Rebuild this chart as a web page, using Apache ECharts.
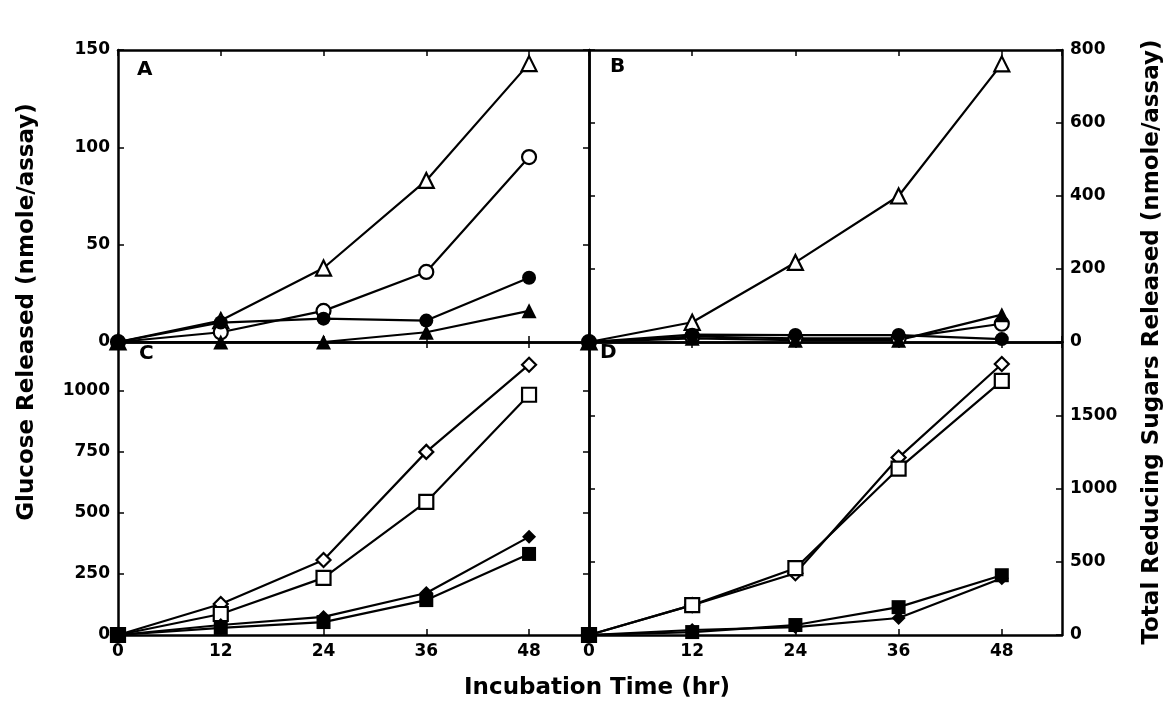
<!DOCTYPE html>
<html>
<head>
	<meta charset="utf-8">
	<title>Incubation Time</title>
	<script src="https://cdn.jsdelivr.net/npm/echarts@6/dist/echarts.min.js"></script>
	<style>
		html, body { margin: 0; padding: 0; background: #fff; }
		#main { width: 1168px; height: 702px; }
	</style>
</head>
<body>
<div id="main"></div>
<script>
	// incubation time (hr)
	var hours = [0, 12, 24, 36, 48];

	// panel A - glucose released (left axis, 0-150)
	var aOpenTri = [0, 11, 38, 83, 143];
	var aOpenCircle = [0, 5, 16, 36, 95];
	var aFilledCircle = [0, 10, 12, 11, 33];
	var aFilledTri = [0, 0, 0, 5, 16];

	// panel B - total reducing sugars (right axis, 0-800)
	var bOpenTri = [0, 54, 218, 400, 762];
	var bOpenCircle = [0, 15, 10, 10, 50];
	var bFilledCircle = [0, 20, 19, 19, 8];
	var bFilledTri = [0, 10, 5, 5, 75];

	// panel C - glucose released (left axis, 0-1200)
	var cOpenDiamond = [0, 127, 307, 750, 1107];
	var cOpenSquare = [0, 86, 234, 545, 984];
	var cFilledDiamond = [0, 41, 74, 172, 402];
	var cFilledSquare = [0, 29, 53, 143, 332];

	// panel D - total reducing sugars (right axis, 0-2000)
	var dOpenDiamond = [0, 204, 422, 1211, 1850];
	var dOpenSquare = [0, 204, 456, 1136, 1735];
	var dFilledDiamond = [0, 34, 54, 116, 388];
	var dFilledSquare = [0, 20, 68, 190, 408];

	var xTicks = [0, 12, 24, 36, 48];
	var aTicks = [0, 50, 100, 150];
	var bTicks = [0, 200, 400, 600, 800];
	var cTicks = [0, 250, 500, 750, 1000];
	var dTicks = [0, 500, 1000, 1500];

	var FONT = 'DejaVu Sans';

	function pairs(ys) {
		return hours.map(function (h, i) { return [h, ys[i]]; });
	}

	function mk(name, ys, grid, symbol, filled, size) {
		return {
			name: name,
			type: 'line',
			xAxisIndex: grid * 2,
			yAxisIndex: grid * 2,
			data: pairs(ys),
			symbol: symbol,
			symbolSize: size,
			showAllSymbol: true,
			clip: false,
			lineStyle: { color: '#000', width: 2.2 },
			itemStyle: {
				color: filled ? '#000' : '#fff',
				borderColor: '#000',
				borderWidth: filled ? 0 : 2.2
			},
			emphasis: { disabled: true },
			animation: false
		};
	}

	var grids = [
		{ left: 118, top: 50, width: 471, height: 292 },
		{ left: 589, top: 50, width: 473, height: 292 },
		{ left: 118, top: 342, width: 471, height: 293 },
		{ left: 589, top: 342, width: 473, height: 293 }
	];

	var axisLine = { show: true, onZero: false, lineStyle: { color: '#000', width: 2.5 } };
	var tick = { show: true, inside: true, length: 6, lineStyle: { color: '#000', width: 1.5 } };
	var labelStyle = { color: '#000', fontFamily: FONT, fontWeight: 'bold', fontSize: 17 };

	var xAxes = [];
	var yAxes = [];
	var yRanges = [
		{ max: 150, interval: 50, ticks: aTicks, side: 'left' },
		{ max: 800, interval: 200, ticks: bTicks, side: 'right' },
		{ max: 1200, interval: 250, ticks: cTicks, side: 'left' },
		{ max: 2000, interval: 500, ticks: dTicks, side: 'right' }
	];

	for (var g = 0; g < 4; g++) {
		var bottomRow = g >= 2;
		// bottom x axis
		xAxes.push({
			type: 'value', gridIndex: g, position: 'bottom',
			min: 0, max: 55, interval: 12,
			axisLine: axisLine, axisTick: tick, splitLine: { show: false },
			axisLabel: bottomRow ? Object.assign({
				show: true, margin: 8, showMaxLabel: false,
				formatter: function (v) { return xTicks.indexOf(v) >= 0 ? String(v) : ''; }
			}, labelStyle) : { show: false }
		});
		// top x axis, ticks only
		xAxes.push({
			type: 'value', gridIndex: g, position: 'top',
			min: 0, max: 55, interval: 12,
			axisLine: axisLine, axisTick: tick, splitLine: { show: false },
			axisLabel: { show: false }
		});
		var r = yRanges[g];
		var outer = {
			type: 'value', gridIndex: g, position: r.side,
			min: 0, max: r.max, interval: r.interval,
			axisLine: axisLine, axisTick: tick, splitLine: { show: false },
			axisLabel: Object.assign({
				show: true, margin: 8,
				formatter: (function (tk) {
					return function (v) { return tk.indexOf(v) >= 0 ? String(v) : ''; };
				})(r.ticks)
			}, labelStyle)
		};
		var inner = {
			type: 'value', gridIndex: g, position: r.side === 'left' ? 'right' : 'left',
			min: 0, max: r.max, interval: r.interval,
			axisLine: axisLine, axisTick: tick, splitLine: { show: false },
			axisLabel: { show: false }
		};
		yAxes.push(outer, inner);
	}

	var series = [
		mk('A open triangle', aOpenTri, 0, 'triangle', false, 15),
		mk('A open circle', aOpenCircle, 0, 'circle', false, 14),
		mk('A filled circle', aFilledCircle, 0, 'circle', true, 14),
		mk('A filled triangle', aFilledTri, 0, 'triangle', true, 15),

		mk('B open triangle', bOpenTri, 1, 'triangle', false, 15),
		mk('B open circle', bOpenCircle, 1, 'circle', false, 14),
		mk('B filled circle', bFilledCircle, 1, 'circle', true, 14),
		mk('B filled triangle', bFilledTri, 1, 'triangle', true, 15),

		mk('C open diamond', cOpenDiamond, 2, 'diamond', false, 14),
		mk('C open square', cOpenSquare, 2, 'rect', false, 14),
		mk('C filled diamond', cFilledDiamond, 2, 'diamond', true, 14),
		mk('C filled square', cFilledSquare, 2, 'rect', true, 14),

		mk('D open diamond', dOpenDiamond, 3, 'diamond', false, 14),
		mk('D open square', dOpenSquare, 3, 'rect', false, 14),
		mk('D filled diamond', dFilledDiamond, 3, 'diamond', true, 14),
		mk('D filled square', dFilledSquare, 3, 'rect', true, 14)
	];

	var txt = { fill: '#000', fontFamily: FONT, fontWeight: 'bold' };

	var option = {
		backgroundColor: '#fff',
		animation: false,
		grid: grids,
		xAxis: xAxes,
		yAxis: yAxes,
		series: series,
		graphic: [
			{ type: 'text', left: 137, top: 60, style: Object.assign({ text: 'A', fontSize: 20 }, txt) },
			{ type: 'text', left: 610, top: 57, style: Object.assign({ text: 'B', fontSize: 20 }, txt) },
			{ type: 'text', left: 139, top: 344, style: Object.assign({ text: 'C', fontSize: 20 }, txt) },
			{ type: 'text', left: 600, top: 343, style: Object.assign({ text: 'D', fontSize: 20 }, txt) },
			{ type: 'text', x: 27, y: 312, rotation: Math.PI / 2,
				style: Object.assign({ text: 'Glucose Released (nmole/assay)', fontSize: 23, align: 'center', verticalAlign: 'middle' }, txt) },
			{ type: 'text', x: 1152, y: 342, rotation: Math.PI / 2,
				style: Object.assign({ text: 'Total Reducing Sugars Released (nmole/assay)', fontSize: 23, align: 'center', verticalAlign: 'middle' }, txt) },
			{ type: 'text', x: 597, y: 688,
				style: Object.assign({ text: 'Incubation Time (hr)', fontSize: 23, align: 'center', verticalAlign: 'middle' }, txt) }
		]
	};

	var myChart = echarts.init(document.getElementById('main'));
	option && myChart.setOption(option);
</script>
</body>
</html>
